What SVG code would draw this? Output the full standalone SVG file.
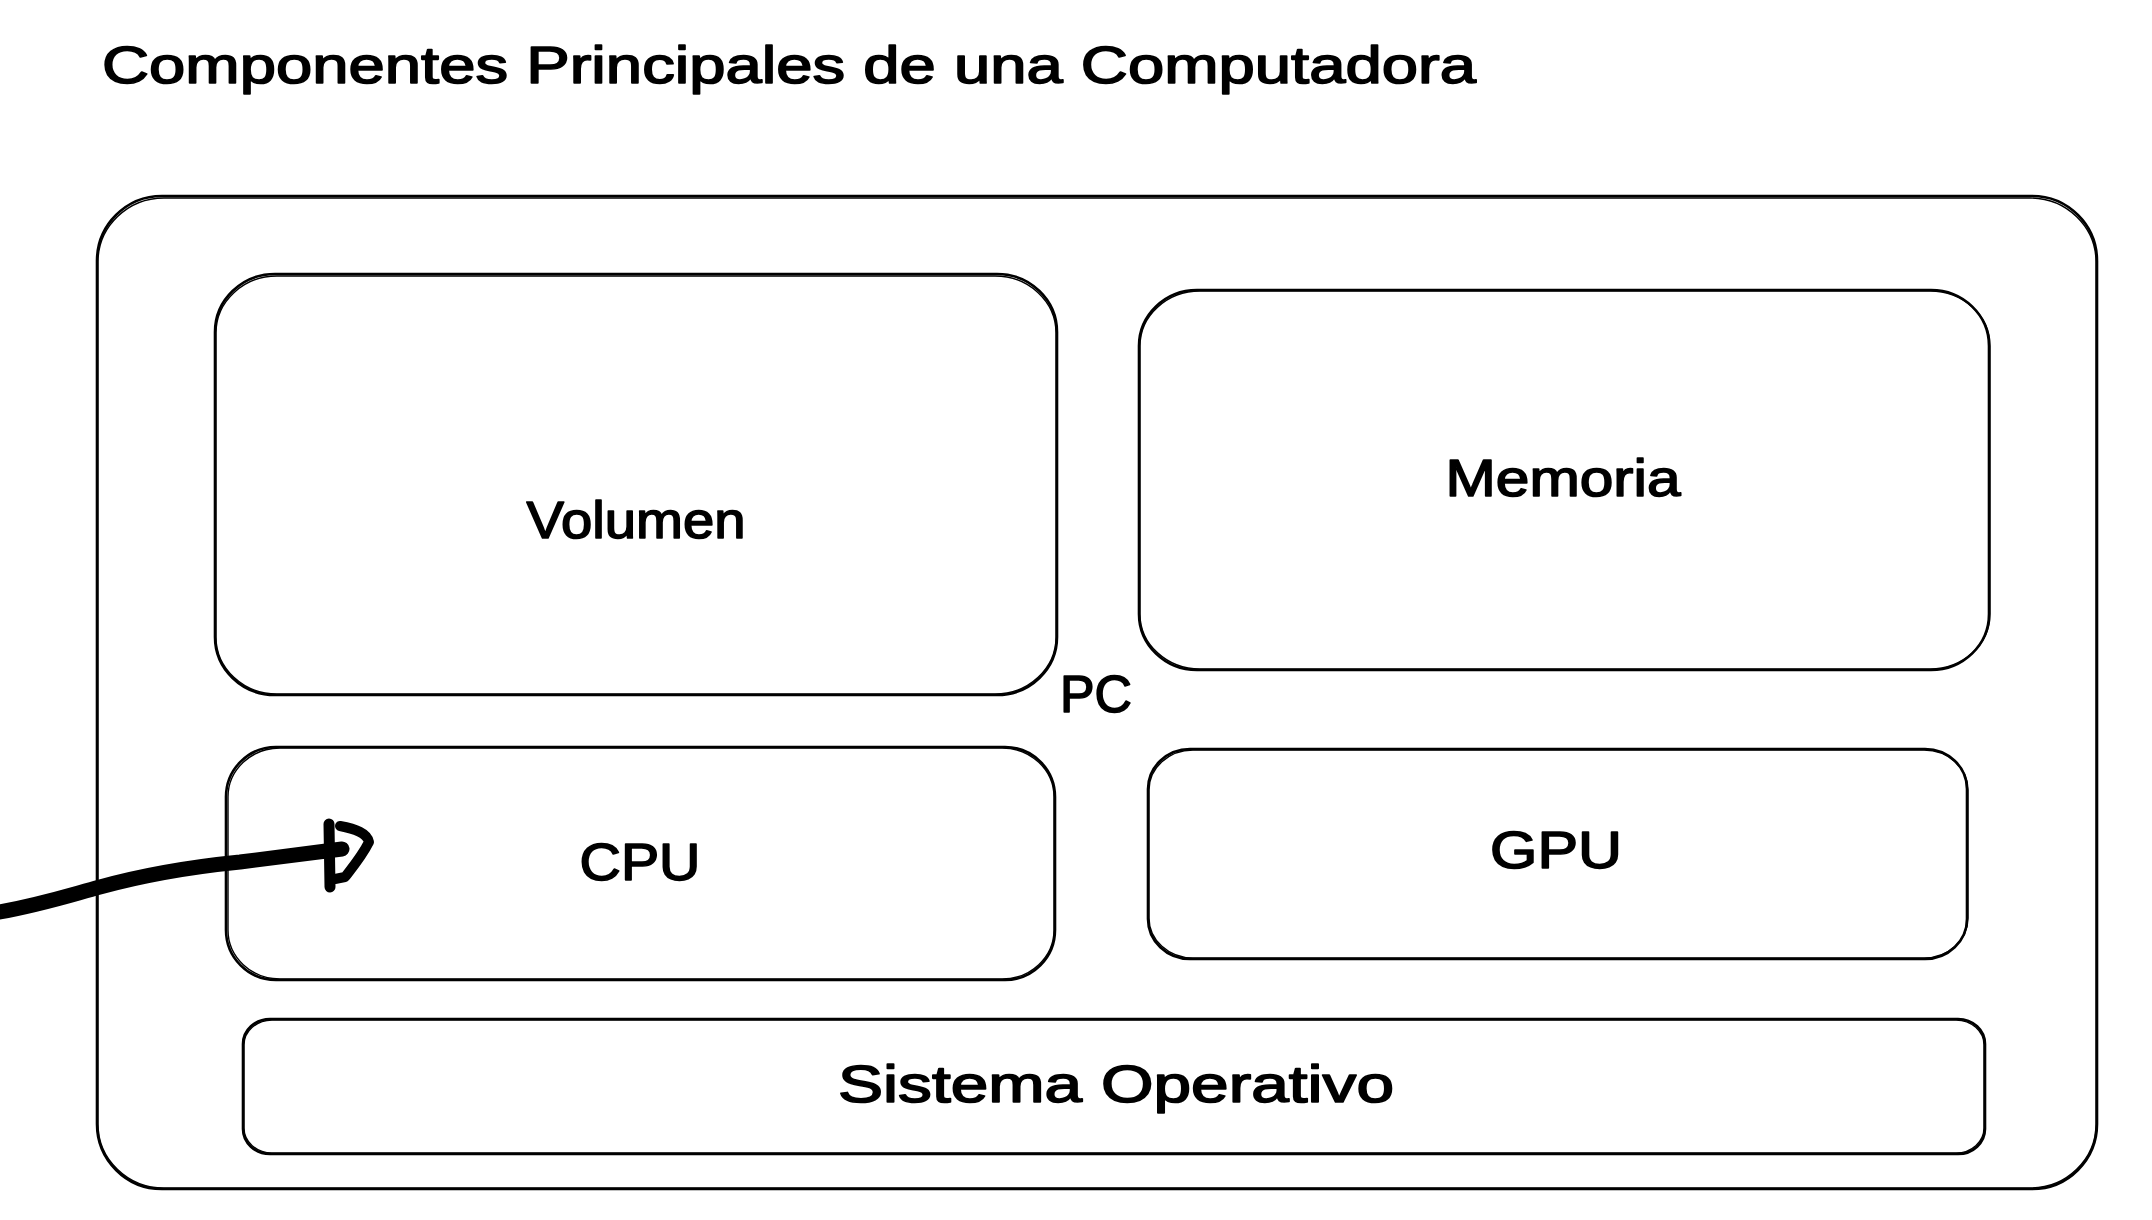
<svg xmlns="http://www.w3.org/2000/svg" width="2152" height="1220" viewBox="0 0 2152 1220">
  <style>
    .box { fill: none; stroke: #000; stroke-width: 2.6; }
    .box2 { fill: none; stroke: #000; stroke-width: 1.4; }
    .lbl { font-family: "Liberation Sans", Arial, sans-serif; font-size: 52px; fill: #000; stroke: #000; stroke-width: 1.6; stroke-linejoin: round; text-anchor: middle; }
    .title { font-family: "Liberation Sans", Arial, sans-serif; font-size: 52px; fill: #000; stroke: #000; stroke-width: 1.6; stroke-linejoin: round; }
    .conn { fill: none; stroke: #000; stroke-linecap: round; stroke-linejoin: round; }
  </style>
  <rect width="2152" height="1220" fill="#fff"/>

  <text id="title" class="title" x="102" y="83" textLength="1374" lengthAdjust="spacingAndGlyphs">Componentes Principales de una Computadora</text>

  <g id="pc">
    <rect class="box" x="97" y="196" width="2000" height="993" rx="65" ry="65"/>
    <rect class="box2" x="98" y="198" width="1998" height="990" rx="66" ry="64"/>
    <text class="lbl" x="1096" y="712" textLength="72" lengthAdjust="spacingAndGlyphs">PC</text>
  </g>

  <g id="volumen">
    <rect class="box" x="215" y="274" width="842" height="421" rx="60" ry="58"/>
    <rect class="box2" x="216" y="276" width="840" height="418" rx="61" ry="57"/>
    <text class="lbl" x="636" y="538" textLength="219" lengthAdjust="spacingAndGlyphs">Volumen</text>
  </g>

  <g id="memoria">
    <rect class="box" x="1139" y="290" width="850" height="380" rx="58" ry="56"/>
    <rect class="box2" x="1140" y="291" width="850" height="378" rx="60" ry="55"/>
    <text class="lbl" x="1563" y="496" textLength="235" lengthAdjust="spacingAndGlyphs">Memoria</text>
  </g>

  <g id="cpu">
    <rect class="box" x="226" y="747" width="829" height="233" rx="50" ry="50"/>
    <rect class="box2" x="228" y="748" width="826" height="231" rx="52" ry="49"/>
    <text class="lbl" x="640" y="880" textLength="121" lengthAdjust="spacingAndGlyphs">CPU</text>
  </g>

  <g id="gpu">
    <rect class="box" x="1148" y="749" width="819" height="210" rx="42" ry="40"/>
    <rect class="box2" x="1149" y="750" width="819" height="208" rx="44" ry="40"/>
    <text class="lbl" x="1556" y="868" textLength="132" lengthAdjust="spacingAndGlyphs">GPU</text>
  </g>

  <g id="sistema-operativo">
    <rect class="box" x="243" y="1019" width="1742" height="135" rx="27" ry="25"/>
    <rect class="box2" x="244" y="1020" width="1740" height="133" rx="28" ry="25"/>
    <text class="lbl" x="1116" y="1102" textLength="556" lengthAdjust="spacingAndGlyphs">Sistema Operativo</text>
  </g>

  <g id="connectors">
    <path class="conn" stroke-width="15" d="M -6 913 C 40 905, 70 895, 100 887 C 140 876, 190 867, 240 862 C 280 857, 310 853, 342 849"/>
    <path class="conn" stroke-width="11" d="M 329 824 L 330 887"/>
    <path class="conn" stroke-width="10" d="M 340 826 C 356 829, 367 833, 369 842 C 362 856, 352 868, 345 877 L 335 879"/>
  </g>
</svg>
